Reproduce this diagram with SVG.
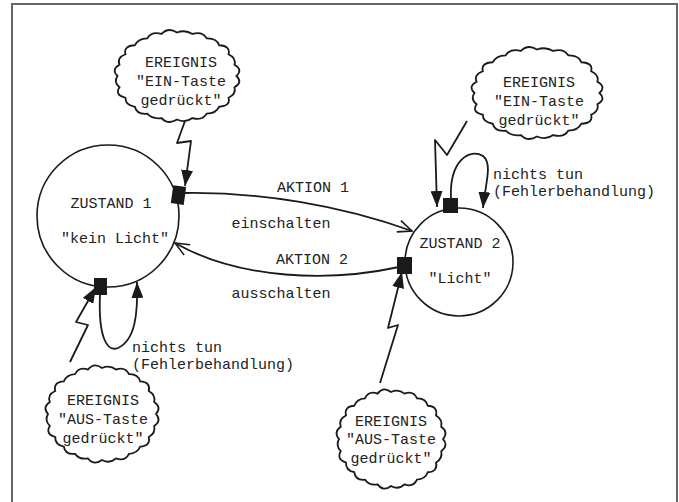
<svg xmlns="http://www.w3.org/2000/svg" xmlns:xlink="http://www.w3.org/1999/xlink" width="679" height="502" viewBox="0 0 679 502">
<style>
  .t { font-family: "Liberation Mono", "DejaVu Sans Mono", monospace; font-size: 15px; fill: #222; }
  .m { text-anchor: middle; }
  .ln { fill: none; stroke: #1a1a1a; stroke-width: 1.8; stroke-linejoin: round; }
  .st { fill: #fff; stroke: #1a1a1a; stroke-width: 1.6; }
  .cl { fill: #fff; stroke: #1a1a1a; stroke-width: 1.8; vector-effect: non-scaling-stroke; }
  .sq { fill: #1a1a1a; }
</style>
<defs>
  <path id="cloud" class="cl" d="M50,0 Q55.52,7.31 48.30,12.94 Q49.89,20.67 43.30,25 Q45.22,34.70 35.36,35.36 Q32.88,42.84 25,43.30 Q21.43,51.74 12.94,48.30 Q7.18,54.53 0,50 Q-7.44,56.51 -12.94,48.30 Q-20.67,49.89 -25,43.30 Q-34.09,44.43 -35.36,35.36 Q-43.64,33.48 -43.30,25 Q-52.66,21.81 -48.30,12.94 Q-53.54,7.05 -50,0 Q-55.52,-7.31 -48.30,-12.94 Q-50.81,-21.05 -43.30,-25 Q-45.22,-34.70 -35.36,-35.36 Q-32.88,-42.84 -25,-43.30 Q-21.43,-51.74 -12.94,-48.30 Q-7.44,-56.51 0,-50 Q7.05,-53.54 12.94,-48.30 Q21.43,-51.74 25,-43.30 Q33.48,-43.64 35.36,-35.36 Q45.22,-34.70 43.30,-25 Q49.89,-20.67 48.30,-12.94 Q55.52,-7.31 50,0 Z"/>
  <marker id="filled" viewBox="0 0 16 12" refX="16" refY="6" markerWidth="16" markerHeight="12" orient="auto" markerUnits="userSpaceOnUse">
    <path d="M0,0 L16,6 L0,12 Z" fill="#1a1a1a"/>
  </marker>
  <marker id="open" viewBox="0 0 16 14" refX="15" refY="7" markerWidth="16" markerHeight="14" orient="auto" markerUnits="userSpaceOnUse">
    <path d="M1,1 L15,7 L1,13" fill="none" stroke="#1a1a1a" stroke-width="1.6"/>
  </marker>
</defs>

<rect width="679" height="502" fill="#fff"/>
<path d="M12,502 L12,4 L677,4 L677,502" fill="none" stroke="#666" stroke-width="2"/>

<g id="zustand1">
  <circle class="st" cx="108" cy="216" r="71"/>
  <text class="t m" x="111" y="208">ZUSTAND 1</text>
  <text class="t m" x="115" y="243">"kein Licht"</text>
</g>

<g id="zustand2">
  <circle class="st" cx="459" cy="262" r="54"/>
  <text class="t m" x="460" y="248">ZUSTAND 2</text>
  <text class="t m" x="460" y="283">"Licht"</text>
</g>

<g id="ereignis-ein-1">
  <use xlink:href="#cloud" href="#cloud" transform="translate(177,76) scale(1.19,0.87)"/>
  <text class="t m" x="181" y="67">EREIGNIS</text>
  <text class="t m" x="181" y="86">"EIN-Taste</text>
  <text class="t m" x="181" y="105">gedrückt"</text>
</g>

<g id="ereignis-ein-2">
  <use xlink:href="#cloud" href="#cloud" transform="translate(537,93) scale(1.25,0.87)"/>
  <text class="t m" x="539" y="87">EREIGNIS</text>
  <text class="t m" x="539" y="106">"EIN-Taste</text>
  <text class="t m" x="539" y="125">gedrückt"</text>
</g>

<g id="ereignis-aus-1">
  <use xlink:href="#cloud" href="#cloud" transform="translate(102,414) scale(1.08,0.92)"/>
  <text class="t m" x="103" y="405">EREIGNIS</text>
  <text class="t m" x="103" y="424">"AUS-Taste</text>
  <text class="t m" x="103" y="443">gedrückt"</text>
</g>

<g id="ereignis-aus-2">
  <use xlink:href="#cloud" href="#cloud" transform="translate(391,439) scale(1.04,0.94)"/>
  <text class="t m" x="391" y="426">EREIGNIS</text>
  <text class="t m" x="391" y="444">"AUS-Taste</text>
  <text class="t m" x="391" y="463">gedrückt"</text>
</g>

<g id="connectors">
  <!-- Aktion 1 -->
  <path class="ln" d="M185,193 C260,192 340,205 412,231" marker-end="url(#open)"/>
  <!-- Aktion 2 -->
  <path class="ln" d="M399,267 C330,282 240,280 175,243" marker-end="url(#open)"/>
  <!-- event lightning arrows -->
  <path class="ln" d="M185,121 L177,143 L191,141 L185,186" marker-end="url(#filled)"/>
  <path class="ln" d="M467,121 L447,155 L435,140 L437,207" marker-end="url(#filled)"/>
  <path class="ln" d="M70,362 L88,325 L76,322 L96,287" marker-end="url(#filled)"/>
  <path class="ln" d="M380,383 L398,325 L388,328 L402,272" marker-end="url(#filled)"/>
  <!-- self loops -->
  <path class="ln" d="M451,199 C449,160 470,148 483,156 C493,164 485,185 483,208" marker-end="url(#filled)"/>
  <path class="ln" d="M100,294 C98,340 108,352 118,348 C135,340 138,315 137,282" marker-end="url(#filled)"/>
  <!-- ports -->
  <rect class="sq" x="172" y="186" width="13" height="18" transform="rotate(8 178 195)"/>
  <rect class="sq" x="94" y="278" width="13" height="17"/>
  <rect class="sq" x="443" y="198" width="15" height="15"/>
  <rect class="sq" x="397" y="257" width="15" height="17"/>
  <!-- labels -->
  <text class="t m" x="313" y="192">AKTION 1</text>
  <text class="t m" x="281" y="228">einschalten</text>
  <text class="t m" x="312" y="264">AKTION 2</text>
  <text class="t m" x="281" y="298">ausschalten</text>
  <text class="t" x="493" y="179">nichts tun</text>
  <text class="t" x="493" y="196">(Fehlerbehandlung)</text>
  <text class="t" x="132" y="352">nichts tun</text>
  <text class="t" x="132" y="369">(Fehlerbehandlung)</text>
</g>
</svg>
